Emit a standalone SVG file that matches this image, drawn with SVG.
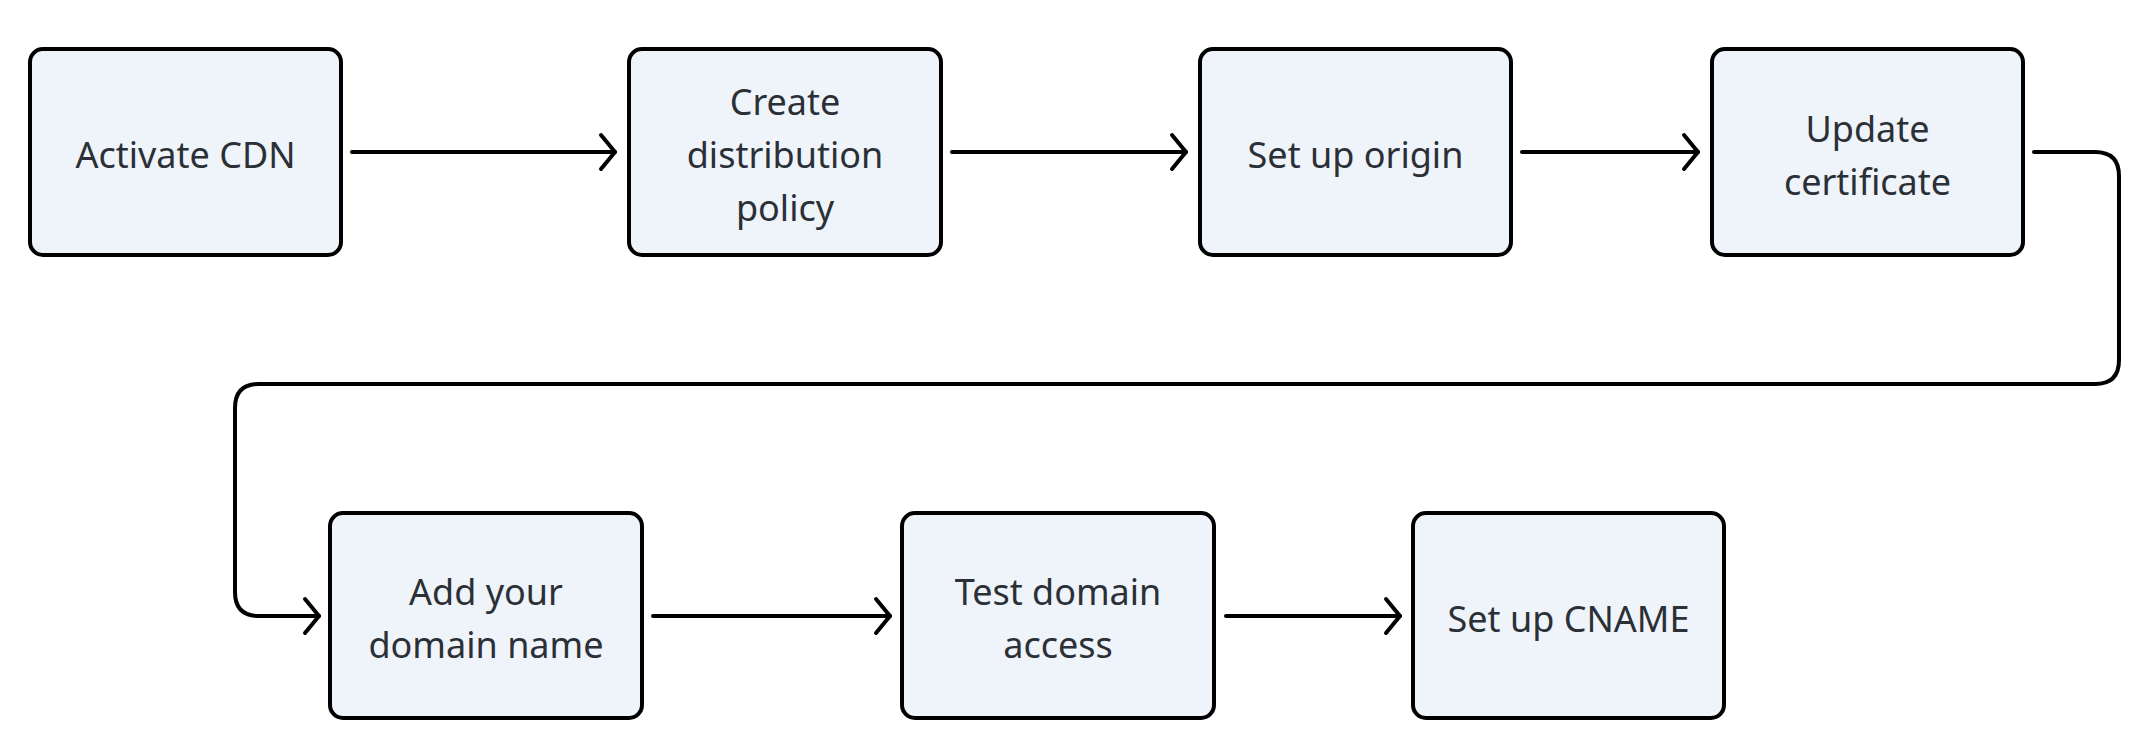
<svg xmlns="http://www.w3.org/2000/svg" width="2141" height="748" viewBox="0 0 2141 748">
<style>
.box{fill:#eff3fa;stroke:#000;stroke-width:4;}
.t{font-family:"Noto Sans","Open Sans",sans-serif;font-size:36px;fill:#2b2f36;text-anchor:middle;}
.c{fill:none;stroke:#000;stroke-width:4;stroke-linecap:round;stroke-linejoin:round;}
</style>
<defs>
<marker id="ah" markerUnits="userSpaceOnUse" markerWidth="30" markerHeight="40" refX="2" refY="0" viewBox="-20 -20 30 40" orient="auto" overflow="visible">
<path d="M-12,-17 L2,0 L-12,17" fill="none" stroke="#000" stroke-width="4" stroke-linecap="round" stroke-linejoin="round"/>
</marker>
</defs>
<rect width="2141" height="748" fill="#fff"/>
<g id="connectors">
<path class="c" d="M352,152 H615" marker-end="url(#ah)"/>
<path class="c" d="M952,152 H1186" marker-end="url(#ah)"/>
<path class="c" d="M1522,152 H1698" marker-end="url(#ah)"/>
<path class="c" d="M2034,152 H2095 Q2119,152 2119,176 V360 Q2119,384 2095,384 H259 Q235,384 235,408 V592 Q235,616 259,616 H319" marker-end="url(#ah)"/>
<path class="c" d="M653,616 H890" marker-end="url(#ah)"/>
<path class="c" d="M1226,616 H1400" marker-end="url(#ah)"/>
</g>
<g id="n1"><rect class="box" x="30" y="49" width="311" height="206" rx="13"/><text class="t" x="185.5" y="168">Activate CDN</text></g>
<g id="n2"><rect class="box" x="629" y="49" width="312" height="206" rx="13"/><text class="t" x="785" y="115">Create</text><text class="t" x="785" y="168">distribution</text><text class="t" x="785" y="221">policy</text></g>
<g id="n3"><rect class="box" x="1200" y="49" width="311" height="206" rx="13"/><text class="t" x="1355.5" y="168">Set up origin</text></g>
<g id="n4"><rect class="box" x="1712" y="49" width="311" height="206" rx="13"/><text class="t" x="1867.5" y="141.5">Update</text><text class="t" x="1867.5" y="194.5">certificate</text></g>
<g id="n5"><rect class="box" x="330" y="513" width="312" height="205" rx="13"/><text class="t" x="486" y="605">Add your</text><text class="t" x="486" y="658">domain name</text></g>
<g id="n6"><rect class="box" x="902" y="513" width="312" height="205" rx="13"/><text class="t" x="1058" y="605">Test domain</text><text class="t" x="1058" y="658">access</text></g>
<g id="n7"><rect class="box" x="1413" y="513" width="311" height="205" rx="13"/><text class="t" x="1568.5" y="632">Set up CNAME</text></g>
</svg>
